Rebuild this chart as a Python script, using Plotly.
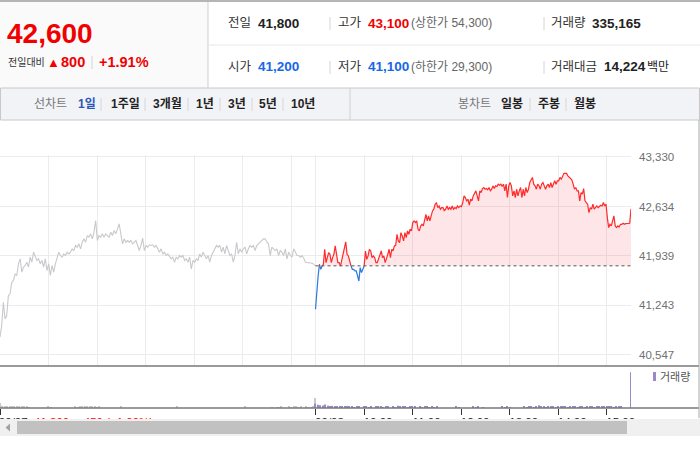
import numpy as np
import plotly.graph_objects as go

W, H = 700, 450
FONT = "Liberation Sans, Noto Sans CJK KR, sans-serif"
RED = "#f00000"
BLUE = "#1668e3"
PURPLE = "#9b88c8"

# previous close (dotted base line)
prev_close = 41800

# 09/07 intraday prices (grey line)
prev_prices = [
    40797, 40961, 41289, 41054, 41101, 41383, 41406, 41570, 41594, 41687,
    41664, 41828, 41898, 41711, 41781, 41805, 41851, 41781, 41922, 41851,
    41992, 41945, 41875, 41898, 41828, 41875, 41781, 41898, 41734, 41828,
    41664, 41805, 41711, 41828, 41898, 41992, 41945, 41922, 41968, 41945,
    41992, 41968, 41992, 42039, 42015, 42086, 42062, 42109, 42039, 42132,
    42179, 42132, 42226, 42203, 42250, 42179, 42273, 42437, 42156, 42226,
    42203, 42250, 42203, 42250, 42226, 42203, 42273, 42226, 42296, 42250,
    42320, 42390, 42250, 42109, 42179, 42132, 42156, 42132, 42156, 42109,
    42132, 42156, 42086, 42015, 42086, 42189, 42015, 42086, 42062, 42095,
    42086, 42095, 42062, 42086, 42039, 41992, 42039, 41968, 41992, 41945,
    41968, 41922, 41898, 41922, 41851, 41922, 41898, 41945, 41922, 41945,
    41875, 41898, 41851, 41922, 41758, 41875, 41851, 41898, 41875, 41968,
    41922, 41992, 41945, 41898, 41945, 41851, 41945, 41992, 42039, 42086,
    42062, 42086, 41992, 42062, 41968, 42086, 42015, 41945, 41968, 41851,
    41945, 42132, 41968, 42039, 41992, 42039, 42062, 41968, 42039, 42086,
    42062, 42086, 42015, 42086, 42109, 42132, 42156, 42179, 42179, 42132,
    42109, 41945, 42062, 42039, 42015, 42039, 41945, 42015, 41992, 41945,
    42039, 41898, 41992, 41945, 41922, 42039, 41992, 41945, 41945, 41922,
    41945, 41908, 41851, 41845, 41842, 41840, 41837, 41820, 41800,
]

# 09/08 intraday prices (red above / blue below previous close)
today_prices = [
    41189, 41470, 41658, 41822, 41751, 41798, 41822,
    42033, 41845, 41916, 41986, 41962, 41845, 41916, 41962, 42080, 41939,
    41845, 41845, 41798, 41892, 41962, 42033, 42136, 41962, 41939, 41869,
    41798, 41751, 41751, 41728, 41728, 41658, 41587, 41775, 41705, 41751,
    41798, 42009, 41892, 41939, 42033, 42009, 41916, 41939, 41916, 41845,
    41845, 41892, 41939, 42009, 41916, 41939, 41845, 41892, 41962, 42033,
    41916, 42033, 42009, 42080, 42089, 42244, 42150, 42127, 42267, 42220,
    42150, 42267, 42197, 42291, 42244, 42314, 42291, 42408, 42431, 42408,
    42431, 42314, 42291, 42361, 42384, 42361, 42431, 42525, 42431, 42502,
    42431, 42525, 42572, 42596, 42666, 42689, 42619, 42642, 42596, 42619,
    42619, 42572, 42596, 42642, 42596, 42619, 42596, 42642, 42596, 42619,
    42605, 42642, 42619, 42642, 42633, 42689, 42783, 42760, 42713, 42736,
    42652, 42736, 42713, 42783, 42821, 42854, 42783, 42713, 42854, 42830,
    42886, 42901, 42877, 42886, 42868, 42901, 42854, 42877, 42924, 42886,
    42924, 42915, 42948, 42934, 42948, 42915, 42948, 42854, 42948, 42760,
    42924, 42971, 42924, 42783, 42854, 42760, 42877, 42783, 42854, 42901,
    42760, 42877, 42783, 42901, 42830, 42877, 42971, 43018, 43042, 42948,
    42924, 42877, 42948, 42924, 42877, 42948, 42971, 42924, 42877, 42924,
    42948, 42901, 42971, 42901, 42948, 42995, 42948, 42995, 42995, 43042,
    43018, 43065, 43100, 43100, 43100, 43065, 43042, 43018, 43009, 42948,
    42877, 42901, 42854, 42854, 42713, 42830, 42807, 42886, 42713, 42689,
    42666, 42549, 42619, 42596, 42666, 42596, 42619, 42642, 42619, 42642,
    42652, 42642, 42689, 42642, 42666, 42478, 42338, 42384, 42361, 42431,
    42502, 42361, 42338, 42361, 42347, 42384, 42384, 42398, 42384, 42394,
    42394, 42394, 42398, 42600,
]

# volume, 3-minute buckets
prev_volume = [
    14, 6, 4, 3, 3, 4, 3, 3, 4, 3, 5, 3, 2, 0, 0, 0, 0, 0, 0, 0,
    3, 2, 0, 0, 0, 0, 0, 0, 0, 0, 0, 3, 2, 3, 3, 5, 3, 3, 3, 3,
    2, 3, 0, 0, 0, 0, 0, 0, 0, 0, 3, 0, 0, 0, 0, 0, 0, 0, 0, 0,
    0, 0, 0, 0, 0, 0, 0, 0, 0, 0, 0, 0, 0, 3, 0, 0, 0, 0, 0, 0,
    0, 0, 0, 0, 0, 0, 0, 0, 0, 0, 0, 0, 0, 0, 0, 0, 0, 0, 0, 0,
    0, 3, 0, 0, 0, 0, 0, 0, 0, 0, 0, 0, 2, 0, 2, 2, 3, 0, 0, 3,
    2, 3, 3, 2, 3, 0, 3, 2, 2, 3,
]
prev_close_volume = 28
today_volume = [
    12, 9, 8, 7, 10, 6, 5, 6, 4, 5, 3, 4, 3, 4, 3, 5, 2, 4, 3, 0,
    3, 4, 2, 3, 0, 5, 3, 3, 2, 4, 3, 0, 3, 2, 6, 3, 4, 3, 2, 3,
    5, 3, 0, 3, 2, 3, 4, 2, 3, 2, 3, 0, 0, 0, 0, 0, 0, 0, 3, 2,
    0, 0, 0, 0, 0, 3, 2, 3, 0, 2, 0, 0, 0, 0, 0, 0, 0, 3, 2, 3,
    2, 0, 0, 0, 0, 0, 3, 2, 4, 3, 2, 3, 8, 3, 3, 2, 3, 4, 3, 2,
    3, 3, 4, 3, 2, 3, 5, 3, 2, 3, 3, 2, 4, 3, 3, 2, 3, 3, 4, 3,
    5, 3, 3, 2, 3, 4, 3, 0, 0, 0,
]
close_volume = 100

price_ticks = [40547, 41243, 41939, 42634, 43330]
grid_minutes = [0, 60, 120, 180, 240, 300, 360, 390, 450, 510, 570, 630, 690, 750]
label_minutes = [0, 390, 450, 510, 570, 630, 690, 750]
time_labels = ["09/07&nbsp;&nbsp;<span style='color:#f00'>41,800 ▲450 (+1.09%)</span>",
               "09/08", "10:00", "11:00", "12:00", "13:00", "14:00", "15:00"]


def X(p):
    return p / W


def Y(p):
    return 1 - p / H


def split_at(xs, ys, base):
    # insert crossing points so the line can switch colour exactly at the base
    xa, ya = [xs[0]], [ys[0]]
    for i in range(1, len(xs)):
        y0, y1 = ys[i - 1], ys[i]
        if (y0 - base) * (y1 - base) < 0:
            t = (base - y0) / (y1 - y0)
            xa.append(xs[i - 1] + t * (xs[i] - xs[i - 1]))
            ya.append(base)
        xa.append(xs[i])
        ya.append(y1)
    return np.array(xa), np.array(ya, dtype=float)


prev_x = np.linspace(0, 390, len(prev_prices))
today_x = np.linspace(390, 780, len(today_prices))
tx, ty = split_at(today_x, today_prices, prev_close)

fig = go.Figure()

fig.add_trace(go.Scatter(x=prev_x, y=prev_prices, mode="lines",
                         line=dict(color="#c9c9cd", width=1.1), hoverinfo="skip"))
fig.add_trace(go.Scatter(x=tx, y=np.full(len(tx), prev_close), mode="lines",
                         line=dict(width=0), hoverinfo="skip"))
fig.add_trace(go.Scatter(x=tx, y=np.maximum(ty, prev_close), mode="lines",
                         line=dict(width=0), fill="tonexty",
                         fillcolor="rgba(245,60,80,0.13)", hoverinfo="skip"))
fig.add_trace(go.Scatter(x=tx, y=np.where(ty >= prev_close, ty, np.nan), mode="lines",
                         line=dict(color="#ff2a2a", width=1.2)))
fig.add_trace(go.Scatter(x=tx, y=np.where(ty <= prev_close, ty, np.nan), mode="lines",
                         line=dict(color="#2a78e0", width=1.2)))

# volume bars
fig.add_trace(go.Bar(x=np.arange(len(prev_volume)) * 3, y=prev_volume, width=1.5,
                     marker=dict(color="#c8c8c8", line=dict(width=0)),
                     xaxis="x2", yaxis="y2"))
fig.add_trace(go.Bar(x=[389], y=[prev_close_volume], width=1.2,
                     marker=dict(color="#c8c8c8", line=dict(width=0)),
                     xaxis="x2", yaxis="y2"))
fig.add_trace(go.Bar(x=390 + np.arange(len(today_volume)) * 3, y=today_volume, width=1.5,
                     marker=dict(color=PURPLE, line=dict(width=0)),
                     xaxis="x2", yaxis="y2"))
fig.add_trace(go.Bar(x=[779.5], y=[close_volume], width=1.2,
                     marker=dict(color=PURPLE, line=dict(width=0)),
                     xaxis="x2", yaxis="y2"))
# invisible trace so the label axis gets drawn
fig.add_trace(go.Scatter(x=[0], y=[0], mode="markers", marker=dict(opacity=0),
                         xaxis="x3", yaxis="y2", hoverinfo="skip"))

min_per_px = 780 / 631
label_pos = [76 * min_per_px] + [m + 14 * min_per_px for m in label_minutes[1:]]

shapes = []


def rect(x0, y0, x1, y1, fill, line=None, layer="above"):
    shapes.append(dict(type="rect", xref="paper", yref="paper",
                       x0=X(x0), x1=X(x1), y0=Y(y0), y1=Y(y1),
                       fillcolor=fill, layer=layer,
                       line=dict(width=1 if line else 0, color=line or fill)))


def line(x0, y0, x1, y1, color, width=1, layer="above"):
    shapes.append(dict(type="line", xref="paper", yref="paper",
                       x0=X(x0), x1=X(x1), y0=Y(y0), y1=Y(y1), layer=layer,
                       line=dict(color=color, width=width)))


# header boxes
rect(0, 2, 208, 88, "#fafafa", layer="below")
rect(0, 0, 700, 2, "#b5b5b5")
line(208, 2, 208, 88, "#cfcfcf")
line(208, 45, 700, 45, "#e8e8e8")
for sx in (330, 544):
    line(sx, 17, sx, 30, "#d4d4d4")
    line(sx, 61, sx, 74, "#d4d4d4")
line(92, 56, 92, 69, "#d4d4d4")

# tab bar
rect(0.5, 88, 699.5, 120, "#f2f3f7", line="#c8c8c8", layer="below")
line(350, 88, 350, 120, "#d0d0d0")
for sx in (101, 145, 188, 220, 252, 283, 530, 566):
    line(sx, 98, sx, 111, "#d6d6d6")

# chart frame
line(0, 366, 699, 366, "#787878", 1.5)
line(0, 408, 699, 408, "#787878", 1.5)
line(699, 120, 699, 418, "#a8a8a8")
shapes.append(dict(type="line", xref="x", yref="y", x0=390, x1=780,
                   y0=prev_close, y1=prev_close,
                   line=dict(color="#555", width=1, dash="dot")))

# legend swatch
rect(653, 372, 656, 381, PURPLE)

# scrollbar covering the time labels
rect(0, 419, 700, 436, "#f0f0f0")
rect(17, 421, 627, 434, "#c1c1c1")
shapes.append(dict(type="path", xref="paper", yref="paper", layer="above",
                   path=f"M {X(10)} {Y(423.5)} L {X(5.5)} {Y(427.5)} L {X(10)} {Y(431.5)} Z",
                   fillcolor="#a3a3a3", line=dict(width=0)))

annotations = []


def text(x, y, s, size=12, color="#333", bold=False):
    annotations.append(dict(xref="paper", yref="paper", x=X(x), y=Y(y),
                            xanchor="left", yanchor="middle", showarrow=False,
                            text=f"<b>{s}</b>" if bold else s,
                            font=dict(family=FONT, size=size, color=color)))


text(5, 33, "42,600", 28, RED, True)
text(6, 62, "전일대비", 10, "#333")
text(45, 62, "▲", 13, RED)
text(59, 62, "800", 14.5, RED, True)
text(97, 62, "+1.91%", 14.5, RED, True)

text(226, 23, "전일", 12.5, "#333")
text(256, 23, "41,800", 13.5, "#222", True)
text(336, 23, "고가", 12.5, "#333")
text(366, 23, "43,100", 13.5, RED, True)
text(409, 23, "(상한가 54,300)", 12, "#666")
text(549, 23, "거래량", 12.5, "#333")
text(590, 23, "335,165", 13.5, "#222", True)

text(226, 67, "시가", 12.5, "#333")
text(256, 67, "41,200", 13.5, BLUE, True)
text(336, 67, "저가", 12.5, "#333")
text(366, 67, "41,100", 13.5, BLUE, True)
text(409, 67, "(하한가 29,300)", 12, "#666")
text(549, 67, "거래대금", 12.5, "#333")
text(602, 67, "14,224", 13.5, "#222", True)
text(645, 67, "백만", 12, "#222")

text(32, 104, "선차트", 12, "#777")
text(76, 104, "1일", 12, "#2b56b5", True)
for tx_, lab in ((109, "1주일"), (151, "3개월"), (194, "1년"), (226, "3년"),
                 (257, "5년"), (289, "10년"), (499, "일봉"), (536, "주봉"), (572, "월봉")):
    text(tx_, 104, lab, 12, "#222", True)
text(456, 104, "봉차트", 12, "#777")

text(658, 377, "거래량", 11, "#555")

fig.update_layout(
    width=W, height=H, autosize=False,
    margin=dict(l=0, r=0, t=0, b=0),
    paper_bgcolor="white", plot_bgcolor="white",
    showlegend=False, barmode="overlay",
    font=dict(family=FONT),
    shapes=shapes, annotations=annotations,
    xaxis=dict(domain=[0, 631 / W], range=[0, 780], anchor="y",
               tickvals=grid_minutes, showticklabels=False, ticks="",
               showgrid=True, gridcolor="#ececec", gridwidth=1,
               zeroline=False, showline=False, automargin=False),
    yaxis=dict(domain=[Y(366), Y(155)], range=[40392, 43358], anchor="x",
               side="right", tickvals=price_ticks,
               ticktext=[f"{v:,}" for v in price_ticks],
               tickfont=dict(family=FONT, size=11.5, color="#707070"),
               ticks="", ticklabelstandoff=7,
               showgrid=True, gridcolor="#ececec", zeroline=False,
               showline=False, automargin=False),
    xaxis2=dict(domain=[0, 631 / W], range=[0, 780], anchor="y2",
                tickvals=label_minutes, showticklabels=False,
                ticks="outside", ticklen=6, tickcolor="#333", tickwidth=1.3,
                showgrid=False, zeroline=False, showline=False, automargin=False),
    xaxis3=dict(overlaying="x2", range=[0, 780], anchor="y2",
                tickvals=label_pos, ticktext=time_labels, ticks="",
                tickfont=dict(family=FONT, size=11.5, color="#222"),
                ticklabelstandoff=5, ticklabeloverflow="allow",
                showgrid=False, zeroline=False, showline=False, automargin=False),
    yaxis2=dict(domain=[Y(408), Y(367)], range=[0, 115], anchor="x2",
                showticklabels=False, showgrid=False, zeroline=False,
                showline=False, ticks="", automargin=False),
)

fig.write_html("out.html", config={"displayModeBar": False},
               post_script="document.body.style.margin='0';")
